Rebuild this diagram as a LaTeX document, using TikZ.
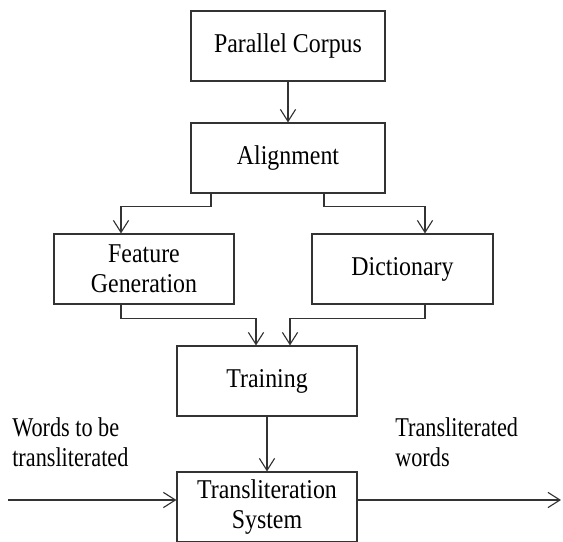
\documentclass[tikz,border=0pt]{standalone}
\usepackage{fontspec}
\setmainfont{Liberation Serif}[FakeStretch=0.88]
\newfontfamily\narrowserif{Liberation Serif}[FakeStretch=0.82]
\usetikzlibrary{arrows.meta,positioning,calc}
\definecolor{lineGray}{gray}{0.2}

\begin{document}
\begin{tikzpicture}[
    block/.style={draw=lineGray, line width=0.8pt, minimum width=4.5cm, minimum height=1.75cm, align=center, inner sep=2pt},
    flow/.style={draw=lineGray, line width=0.8pt, -{Straight Barb[length=0.3cm, width=0.38cm]}},
    tag/.style={align=left, inner sep=0pt, anchor=west, font=\narrowserif\fontsize{19.3}{21.3}\selectfont}
  ]
  \useasboundingbox (0,0) rectangle (14.075,13.525);
  \fontsize{19.3}{21.3}\selectfont
  % main chain
  \node[block, minimum width=4.85cm] (corpus) at (7.2,12.375) {Parallel Corpus};
  \node[block, minimum width=4.85cm] (align) at (7.2,9.575) {Alignment};
  \node[block] (feat) at (3.6,6.8) {Feature\\Generation};
  \node[block, minimum width=4.525cm] (dict) at (10.0625,6.8) {Dictionary};
  \node[block] (train) at (6.675,4.0) {Training};
  \node[block] (sys) at (6.675,0.85) {Transliteration\\System};
  % side texts
  \node[tag] (inText) at (0.3,2.475) {Words to be\\transliterated};
  \node[tag] (outText) at (9.875,2.475) {Transliterated\\words};
  \coordinate (in) at (0.2,1.025);
  \coordinate (out) at (14.025,1.025);
  % connectors
  \draw[flow] (corpus) -- (align);
  \draw[flow] ([xshift=-1.925cm]align.south) -- ++(0,-0.325) -| ([xshift=-0.575cm]feat.north);
  \draw[flow] ([xshift=0.9cm]align.south) -- ++(0,-0.325) -| ([xshift=0.5625cm]dict.north);
  \draw[flow] ([xshift=-0.575cm]feat.south) -- ++(0,-0.35) -| ([xshift=-0.275cm]train.north);
  \draw[flow] ([xshift=0.5625cm]dict.south) -- ++(0,-0.35) -| ([xshift=0.575cm]train.north);
  \draw[flow] (train) -- (sys);
  \draw[flow] (in) -- (in -| sys.west);
  \draw[flow] (out -| sys.east) -- (out);
\end{tikzpicture}
\end{document}
